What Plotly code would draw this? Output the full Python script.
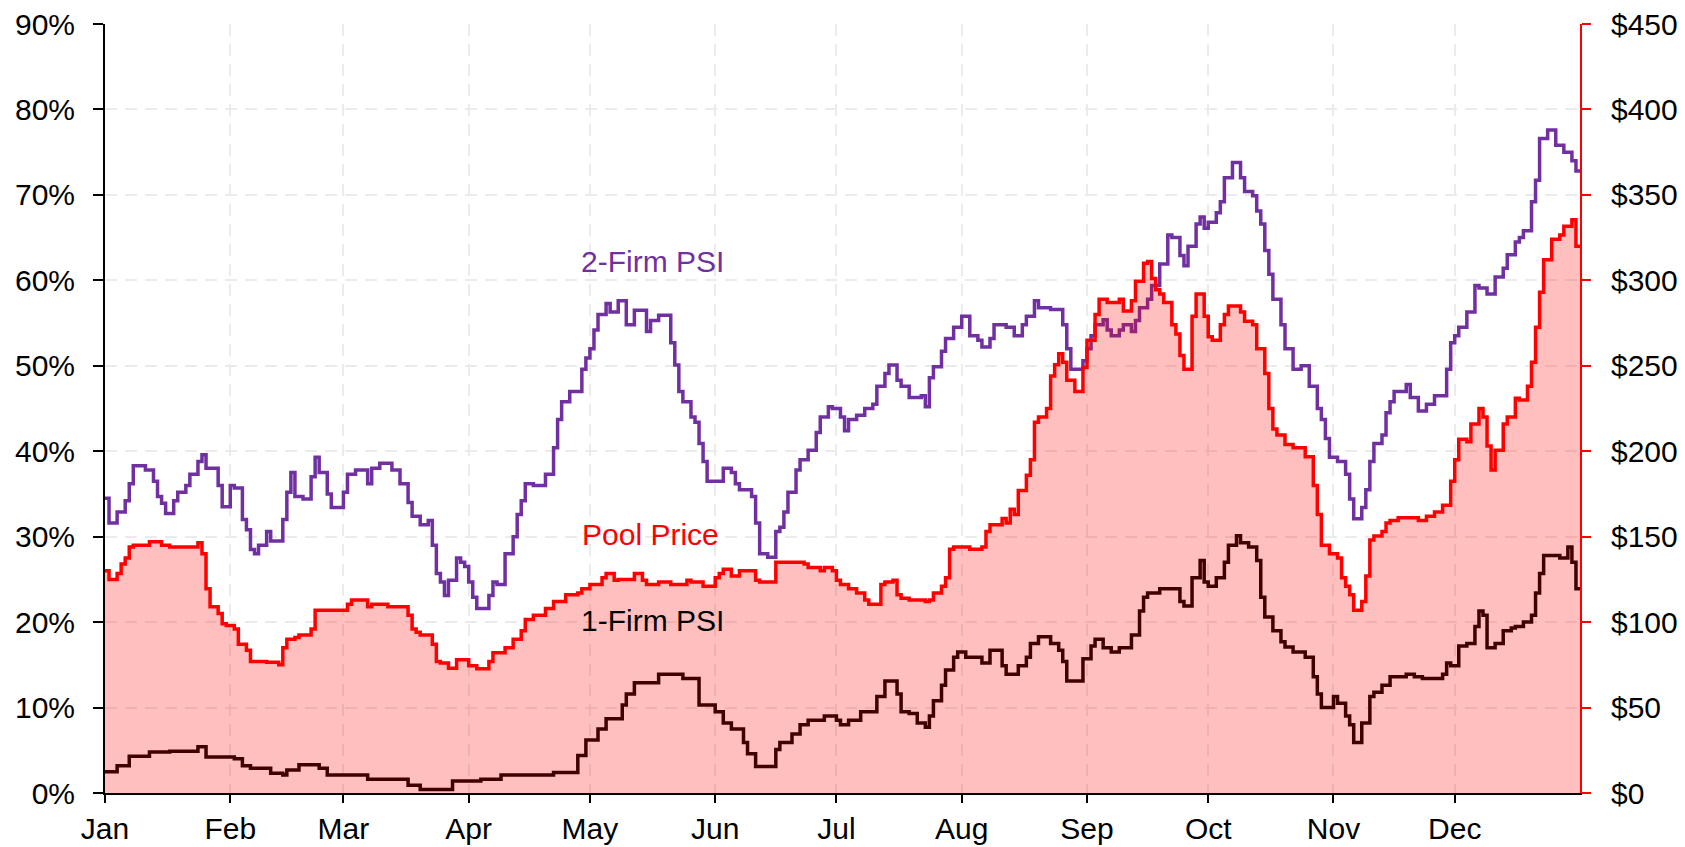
import pandas as pd
import plotly.graph_objects as go

# ---------------- data (day-of-year index, value) ----------------
month_labels = ["Jan", "Feb", "Mar", "Apr", "May", "Jun",
                "Jul", "Aug", "Sep", "Oct", "Nov", "Dec"]

pool_days = [0, 1, 3, 4, 5, 6, 7, 11, 14, 16, 23, 24, 25, 26, 28, 29, 30, 32, 33, 35,
             36, 40, 43, 44, 45, 47, 48, 51, 52, 60, 61, 65, 66, 70, 75, 76, 77, 78, 81, 82,
             83, 85, 87, 90, 92, 95, 96, 99, 101, 103, 104, 106, 109, 111, 114, 117, 118, 120, 123, 124,
             126, 127, 131, 133, 134, 137, 140, 144, 145, 148, 151, 152, 153, 155, 157, 161, 162, 166, 173, 174,
             177, 178, 180, 181, 182, 184, 186, 188, 189, 192, 193, 195, 196, 197, 199, 203, 204, 205, 207, 208,
             209, 210, 214, 217, 218, 219, 222, 223, 224, 225, 226, 228, 229, 230, 231, 233, 234, 235, 236, 237,
             238, 240, 242, 243, 245, 246, 248, 251, 252, 254, 255, 257, 258, 259, 260, 261, 262, 264, 265, 266,
             267, 269, 270, 272, 273, 274, 276, 277, 278, 281, 282, 284, 285, 287, 288, 289, 290, 292, 294, 297,
             299, 300, 301, 303, 305, 306, 307, 308, 309, 311, 312, 313, 314, 316, 317, 318, 320, 325, 327, 329,
             331, 333, 334, 335, 337, 338, 340, 341, 342, 343, 344, 346, 347, 349, 350, 352, 353, 354, 355, 356,
             358, 360, 361, 363, 364]
pool_price = [130, 125, 128.5, 134, 137.5, 144, 145, 147, 145, 144, 146.5, 140, 119.5, 109, 105, 99, 98, 96, 87, 83.5,
              77, 76.5, 75, 85, 90, 91, 92.5, 96, 107, 110.5, 113, 109, 110.5, 109, 104, 96, 94, 92.5, 87, 77,
              76, 73, 78, 74.5, 72.7, 77, 82, 85, 90, 95, 101.5, 104, 108, 112, 116, 117, 119.5, 122, 126, 128.5,
              124.5, 125, 128.5, 124.5, 122, 123.4, 122, 124.5, 123.4, 121, 126, 128.5, 131, 127, 130, 124.5, 123.4, 135, 134, 132,
              130, 132, 130, 124.5, 122, 119.5, 117, 113, 110.5, 122, 123.4, 124.5, 116, 114, 113, 112, 113, 117, 121, 126,
              142.7, 144, 142.7, 144, 153, 157, 160.7, 158, 166, 163, 177, 186, 195, 217, 220, 225, 244, 250.6, 257, 252,
              241.6, 235, 249, 265, 280, 289, 287, 289, 282, 288, 299.5, 310, 311, 301, 294.5, 292, 287, 274, 268.6, 256,
              248, 279, 292, 279, 267, 265, 274, 280, 285, 281.5, 276, 274, 260, 245.5, 225, 213, 209.5, 204, 202, 196.7,
              180, 163, 145, 140, 137.5, 126, 121, 116, 107, 112, 127, 148, 150.4, 153, 158, 159.4, 161, 159.4, 162, 164.5,
              168.4, 182.5, 195, 207, 205.5, 216, 225, 220, 203, 189, 200.5, 216, 220, 231, 230, 238, 252, 272.5, 293, 312,
              324, 326.5, 331.6, 335.5, 320]

psi2_days = [0, 1, 3, 5, 6, 7, 10, 12, 13, 14, 15, 17, 18, 20, 21, 23, 24, 25, 28, 29,
             31, 32, 34, 35, 36, 37, 38, 40, 41, 44, 45, 46, 47, 49, 51, 52, 53, 55, 56, 59,
             60, 62, 65, 66, 68, 71, 73, 75, 76, 78, 80, 81, 82, 83, 84, 85, 87, 88, 89, 90,
             91, 92, 95, 96, 97, 99, 101, 102, 103, 104, 106, 109, 111, 112, 113, 115, 118, 119, 120, 121,
             122, 124, 125, 127, 129, 131, 134, 135, 137, 140, 141, 142, 143, 145, 146, 147, 148, 149, 153, 155,
             156, 157, 160, 161, 162, 164, 166, 167, 168, 169, 171, 172, 174, 176, 177, 179, 180, 182, 183, 184,
             186, 188, 190, 191, 193, 194, 196, 197, 199, 202, 203, 204, 205, 207, 208, 210, 212, 214, 216, 217,
             219, 220, 223, 225, 227, 228, 230, 231, 234, 237, 238, 239, 242, 243, 244, 245, 247, 248, 249, 251,
             252, 254, 255, 256, 258, 259, 261, 263, 264, 266, 267, 268, 270, 271, 272, 273, 275, 276, 277, 279,
             281, 282, 284, 285, 286, 287, 288, 289, 291, 292, 294, 296, 298, 300, 301, 302, 303, 305, 307, 308,
             309, 311, 312, 313, 314, 316, 317, 318, 319, 322, 323, 325, 327, 329, 332, 333, 334, 335, 337, 339,
             340, 342, 344, 346, 347, 349, 350, 351, 353, 354, 355, 357, 359, 361, 363, 364]
psi2_pct = [34.5, 31.6, 32.9, 34.2, 36.2, 38.3, 37.8, 36.5, 34.7, 33.9, 32.7, 34.2, 35.2, 36.0, 37.3, 38.8, 39.6, 38.0, 36.0, 33.5,
            36.0, 35.7, 32.0, 30.8, 28.5, 28.0, 29.0, 30.6, 29.5, 32.0, 35.2, 37.5, 34.7, 34.4, 37.0, 39.3, 37.5, 35.0, 33.4, 35.2,
            37.3, 37.8, 36.2, 38.0, 38.6, 37.8, 36.2, 34.0, 32.4, 31.4, 31.9, 29.0, 25.7, 24.7, 23.1, 24.9, 27.5, 27.0, 26.5, 24.7,
            22.9, 21.6, 23.1, 24.7, 24.4, 28.0, 30.0, 32.6, 34.2, 36.2, 36.0, 37.3, 40.4, 43.7, 45.8, 47.0, 49.6, 50.9, 52.0, 54.2,
            56.0, 57.3, 56.3, 57.6, 54.8, 56.5, 54.0, 55.3, 55.9, 52.7, 50.1, 47.0, 45.8, 44.0, 43.4, 40.9, 38.8, 36.5, 38.0, 37.5,
            36.2, 35.5, 34.7, 31.6, 28.0, 27.6, 30.6, 31.1, 32.9, 35.2, 37.8, 39.0, 40.1, 42.2, 44.0, 45.2, 45.0, 44.0, 42.4, 43.7,
            44.2, 45.0, 45.5, 47.6, 49.1, 50.1, 48.3, 47.6, 46.3, 46.5, 45.2, 48.6, 49.9, 51.7, 53.2, 54.5, 55.8, 53.5, 53.0, 52.2,
            53.2, 54.8, 54.5, 53.5, 54.8, 55.8, 57.6, 56.8, 56.6, 54.8, 52.0, 49.6, 50.6, 52.0, 53.5, 54.8, 55.4, 54.2, 53.5, 54.2,
            54.8, 54.0, 55.3, 56.8, 57.8, 59.4, 61.9, 65.3, 65.0, 62.9, 61.7, 64.0, 66.6, 67.4, 66.1, 66.8, 67.9, 69.2, 72.0, 73.8,
            72.0, 70.4, 69.9, 68.1, 66.6, 63.5, 60.7, 57.8, 54.8, 52.0, 49.6, 50.0, 47.6, 45.0, 43.7, 41.5, 39.3, 38.8, 37.3, 34.4,
            32.1, 33.4, 35.5, 38.8, 40.9, 41.9, 44.5, 45.8, 47.0, 47.8, 46.3, 44.7, 45.5, 46.5, 49.6, 52.7, 53.5, 54.5, 56.3, 59.4,
            59.1, 58.4, 60.4, 61.4, 63.0, 64.5, 65.0, 65.8, 69.2, 71.7, 76.6, 77.6, 75.8, 75.0, 74.0, 72.8]

psi1_days = [0, 3, 6, 11, 16, 23, 25, 32, 34, 36, 41, 44, 45, 48, 53, 55, 65, 75, 78, 86,
             93, 98, 111, 117, 119, 122, 124, 128, 129, 131, 137, 143, 147, 151, 153, 155, 158, 159, 161, 166,
             167, 170, 172, 174, 178, 181, 182, 184, 187, 191, 193, 196, 197, 199, 201, 203, 204, 205, 207, 208,
             210, 211, 213, 217, 219, 222, 223, 226, 228, 229, 231, 234, 236, 237, 238, 242, 244, 245, 247, 249,
             251, 254, 256, 257, 258, 261, 266, 267, 269, 271, 272, 273, 275, 277, 278, 280, 281, 283, 285, 286,
             287, 289, 291, 292, 294, 297, 299, 300, 301, 304, 305, 307, 308, 309, 311, 313, 314, 316, 318, 322,
             324, 326, 331, 332, 333, 335, 337, 339, 340, 341, 342, 344, 346, 348, 349, 351, 353, 354, 355, 356,
             360, 362, 363, 364]
psi1_pct = [2.5, 3.2, 4.3, 4.8, 4.9, 5.4, 4.2, 4.0, 3.2, 2.9, 2.3, 2.1, 2.7, 3.3, 2.9, 2.1, 1.6, 0.9, 0.4, 1.4,
            1.6, 2.1, 2.4, 4.4, 6.2, 7.5, 8.7, 10.3, 11.6, 12.9, 13.9, 13.4, 10.3, 9.5, 8.2, 7.5, 5.9, 4.6, 3.1, 5.1,
            5.9, 6.9, 8.0, 8.5, 9.0, 8.5, 8.0, 8.5, 9.5, 11.3, 13.1, 11.6, 9.5, 9.3, 8.2, 7.7, 9.0, 10.8, 12.6, 14.4,
            15.9, 16.5, 15.9, 15.2, 16.7, 14.9, 13.9, 14.9, 15.9, 17.5, 18.3, 17.5, 16.7, 15.4, 13.1, 15.7, 17.2, 18.0, 17.0, 16.5,
            17.0, 18.5, 21.3, 22.9, 23.4, 23.9, 22.4, 21.9, 25.2, 27.2, 24.7, 24.2, 25.2, 27.0, 29.0, 30.1, 29.3, 28.8, 27.2, 22.9,
            20.6, 19.0, 17.7, 17.1, 16.5, 15.9, 13.6, 11.6, 10.0, 11.3, 10.5, 9.0, 8.0, 5.9, 8.2, 11.3, 11.8, 12.6, 13.6, 13.9,
            13.6, 13.4, 13.9, 15.2, 14.9, 17.2, 17.5, 19.5, 21.3, 20.8, 17.0, 17.5, 19.0, 19.3, 19.5, 20.0, 20.8, 23.4, 25.7, 27.8,
            27.5, 28.8, 27.0, 23.9]

# ---------------- helpers ----------------
year_start = pd.Timestamp("2019-01-01")
year_end = pd.Timestamp("2020-01-01")


def to_dates(days, vals):
    """Convert day indices to dates and carry the last step to the year end."""
    xs = [year_start + pd.Timedelta(days=d) for d in days] + [year_end]
    ys = list(vals) + [vals[-1]]
    return xs, ys


month_starts = pd.date_range(year_start, periods=12, freq="MS")

FONT = "Liberation Sans, Arial, sans-serif"
FS = 30
LW = 3.5

fig = go.Figure()

px, py = to_dates(pool_days, pool_price)
fig.add_trace(go.Scatter(
    x=px, y=py, yaxis="y2", mode="lines", line=dict(color="#ff0000", width=LW, shape="hv"),
    fill="tozeroy", fillcolor="rgba(255,0,0,0.25)", name="Pool Price", hoverinfo="skip"))

x2, y2 = to_dates(psi2_days, psi2_pct)
fig.add_trace(go.Scatter(
    x=x2, y=y2, mode="lines", line=dict(color="#7030a0", width=LW, shape="hv"),
    name="2-Firm PSI", hoverinfo="skip"))

x1, y1 = to_dates(psi1_days, psi1_pct)
fig.add_trace(go.Scatter(
    x=x1, y=y1, mode="lines", line=dict(color="#000000", width=LW, shape="hv"),
    name="1-Firm PSI", hoverinfo="skip"))

grid_color = "#ebebeb"
# the page body has an 8px margin, so the figure is sized to fit inside the window
fig.update_layout(
    width=1677, height=839,
    margin=dict(l=97, r=105, t=16, b=54, autoexpand=False),
    paper_bgcolor="white", plot_bgcolor="white",
    showlegend=False,
    font=dict(family=FONT, size=FS, color="black"),
    xaxis=dict(
        type="date", range=[year_start, year_end],
        tickvals=list(month_starts), ticktext=month_labels,
        showgrid=True, gridcolor=grid_color, gridwidth=2, griddash="12px,8px",
        showline=True, linecolor="black", linewidth=2,
        ticks="outside", ticklen=8, tickwidth=2, tickcolor="black",
        tickfont=dict(family=FONT, size=FS, color="black"),
        zeroline=False, automargin=False, ticklabeloverflow="allow",
    ),
    yaxis=dict(
        range=[0, 90], tickmode="linear", tick0=0, dtick=10, ticksuffix="%",
        showgrid=True, gridcolor=grid_color, gridwidth=2, griddash="12px,8px",
        showline=True, linecolor="black", linewidth=2,
        ticks="outside", ticklen=10, tickwidth=2, tickcolor="black",
        ticklabelstandoff=12,
        tickfont=dict(family=FONT, size=FS, color="black"),
        zeroline=False, automargin=False, ticklabeloverflow="allow",
    ),
    yaxis2=dict(
        overlaying="y", side="right", range=[0, 450], tickmode="linear", tick0=0, dtick=50,
        tickprefix="$", showgrid=False, zeroline=False,
        showline=True, linecolor="#ff0000", linewidth=2,
        ticks="outside", ticklen=9, tickwidth=2, tickcolor="#ff0000",
        ticklabelstandoff=14,
        tickfont=dict(family=FONT, size=FS, color="black"),
        automargin=False, ticklabeloverflow="allow",
    ),
    annotations=[
        dict(x=year_start + pd.Timedelta(days=135.6), y=62.2, xref="x", yref="y",
             text="2-Firm PSI", showarrow=False,
             font=dict(family=FONT, size=FS, color="#7030a0")),
        dict(x=year_start + pd.Timedelta(days=135.0), y=30.3, xref="x", yref="y",
             text="Pool Price", showarrow=False,
             font=dict(family=FONT, size=FS, color="#ff0000")),
        dict(x=year_start + pd.Timedelta(days=135.6), y=20.2, xref="x", yref="y",
             text="1-Firm PSI", showarrow=False,
             font=dict(family=FONT, size=FS, color="#000000")),
    ],
)

fig.write_html("out.html")
